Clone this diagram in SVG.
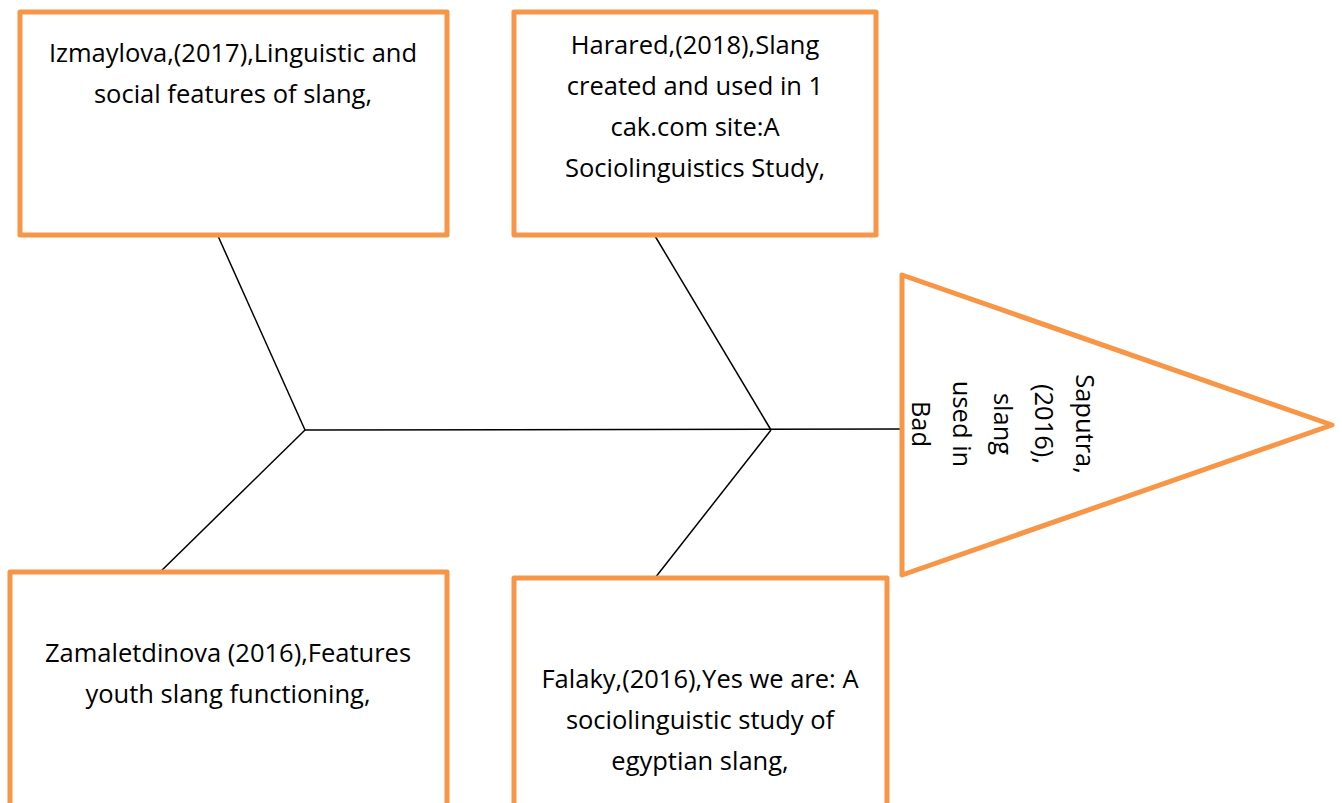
<svg xmlns="http://www.w3.org/2000/svg" width="1342" height="803" viewBox="0 0 1342 803">
<style>
.box{fill:#fff;stroke:#F79646;stroke-width:5;stroke-linejoin:round}
.ln{stroke:#000;stroke-width:1.5;fill:none}
text{font-family:"Open Sans","Liberation Sans",sans-serif;font-size:25.5px;fill:#000;text-anchor:middle}
</style>
<rect width="1342" height="803" fill="#fff"/>
<g id="connectors">
<line class="ln" x1="305" y1="430" x2="902" y2="429"/>
<line class="ln" x1="218" y1="236" x2="305" y2="430"/>
<line class="ln" x1="305" y1="430" x2="155" y2="577"/>
<line class="ln" x1="655" y1="236" x2="771" y2="430"/>
<line class="ln" x1="771" y1="430" x2="655" y2="578"/>
</g>
<g id="izmaylova">
<rect class="box" x="20" y="12" width="427" height="223"/>
<text x="233" y="62">Izmaylova,(2017),Linguistic and</text>
<text x="233" y="103">social features of slang,</text>
</g>
<g id="harared">
<rect class="box" x="514" y="12" width="362" height="223"/>
<text x="695" y="54">Harared,(2018),Slang</text>
<text x="695" y="95">created and used in 1</text>
<text x="695" y="136">cak.com site:A</text>
<text x="695" y="177">Sociolinguistics Study,</text>
</g>
<g id="zamaletdinova">
<rect class="box" x="10" y="572" width="437" height="240"/>
<text x="228" y="662">Zamaletdinova (2016),Features</text>
<text x="228" y="703">youth slang functioning,</text>
</g>
<g id="falaky">
<rect class="box" x="514" y="578" width="373" height="240"/>
<text x="700" y="688">Falaky,(2016),Yes we are: A</text>
<text x="700" y="729">sociolinguistic study of</text>
<text x="700" y="770">egyptian slang,</text>
</g>
<g id="saputra">
<polygon class="box" points="902,275 1332,425 902,575"/>
<g transform="translate(1085,424) rotate(90)">
<text x="0" y="9">Saputra,</text>
<text x="0" y="50">(2016),</text>
<text x="0" y="91">slang</text>
<text x="0" y="132">used in</text>
<text x="0" y="173">Bad</text>
</g>
</g>
</svg>
